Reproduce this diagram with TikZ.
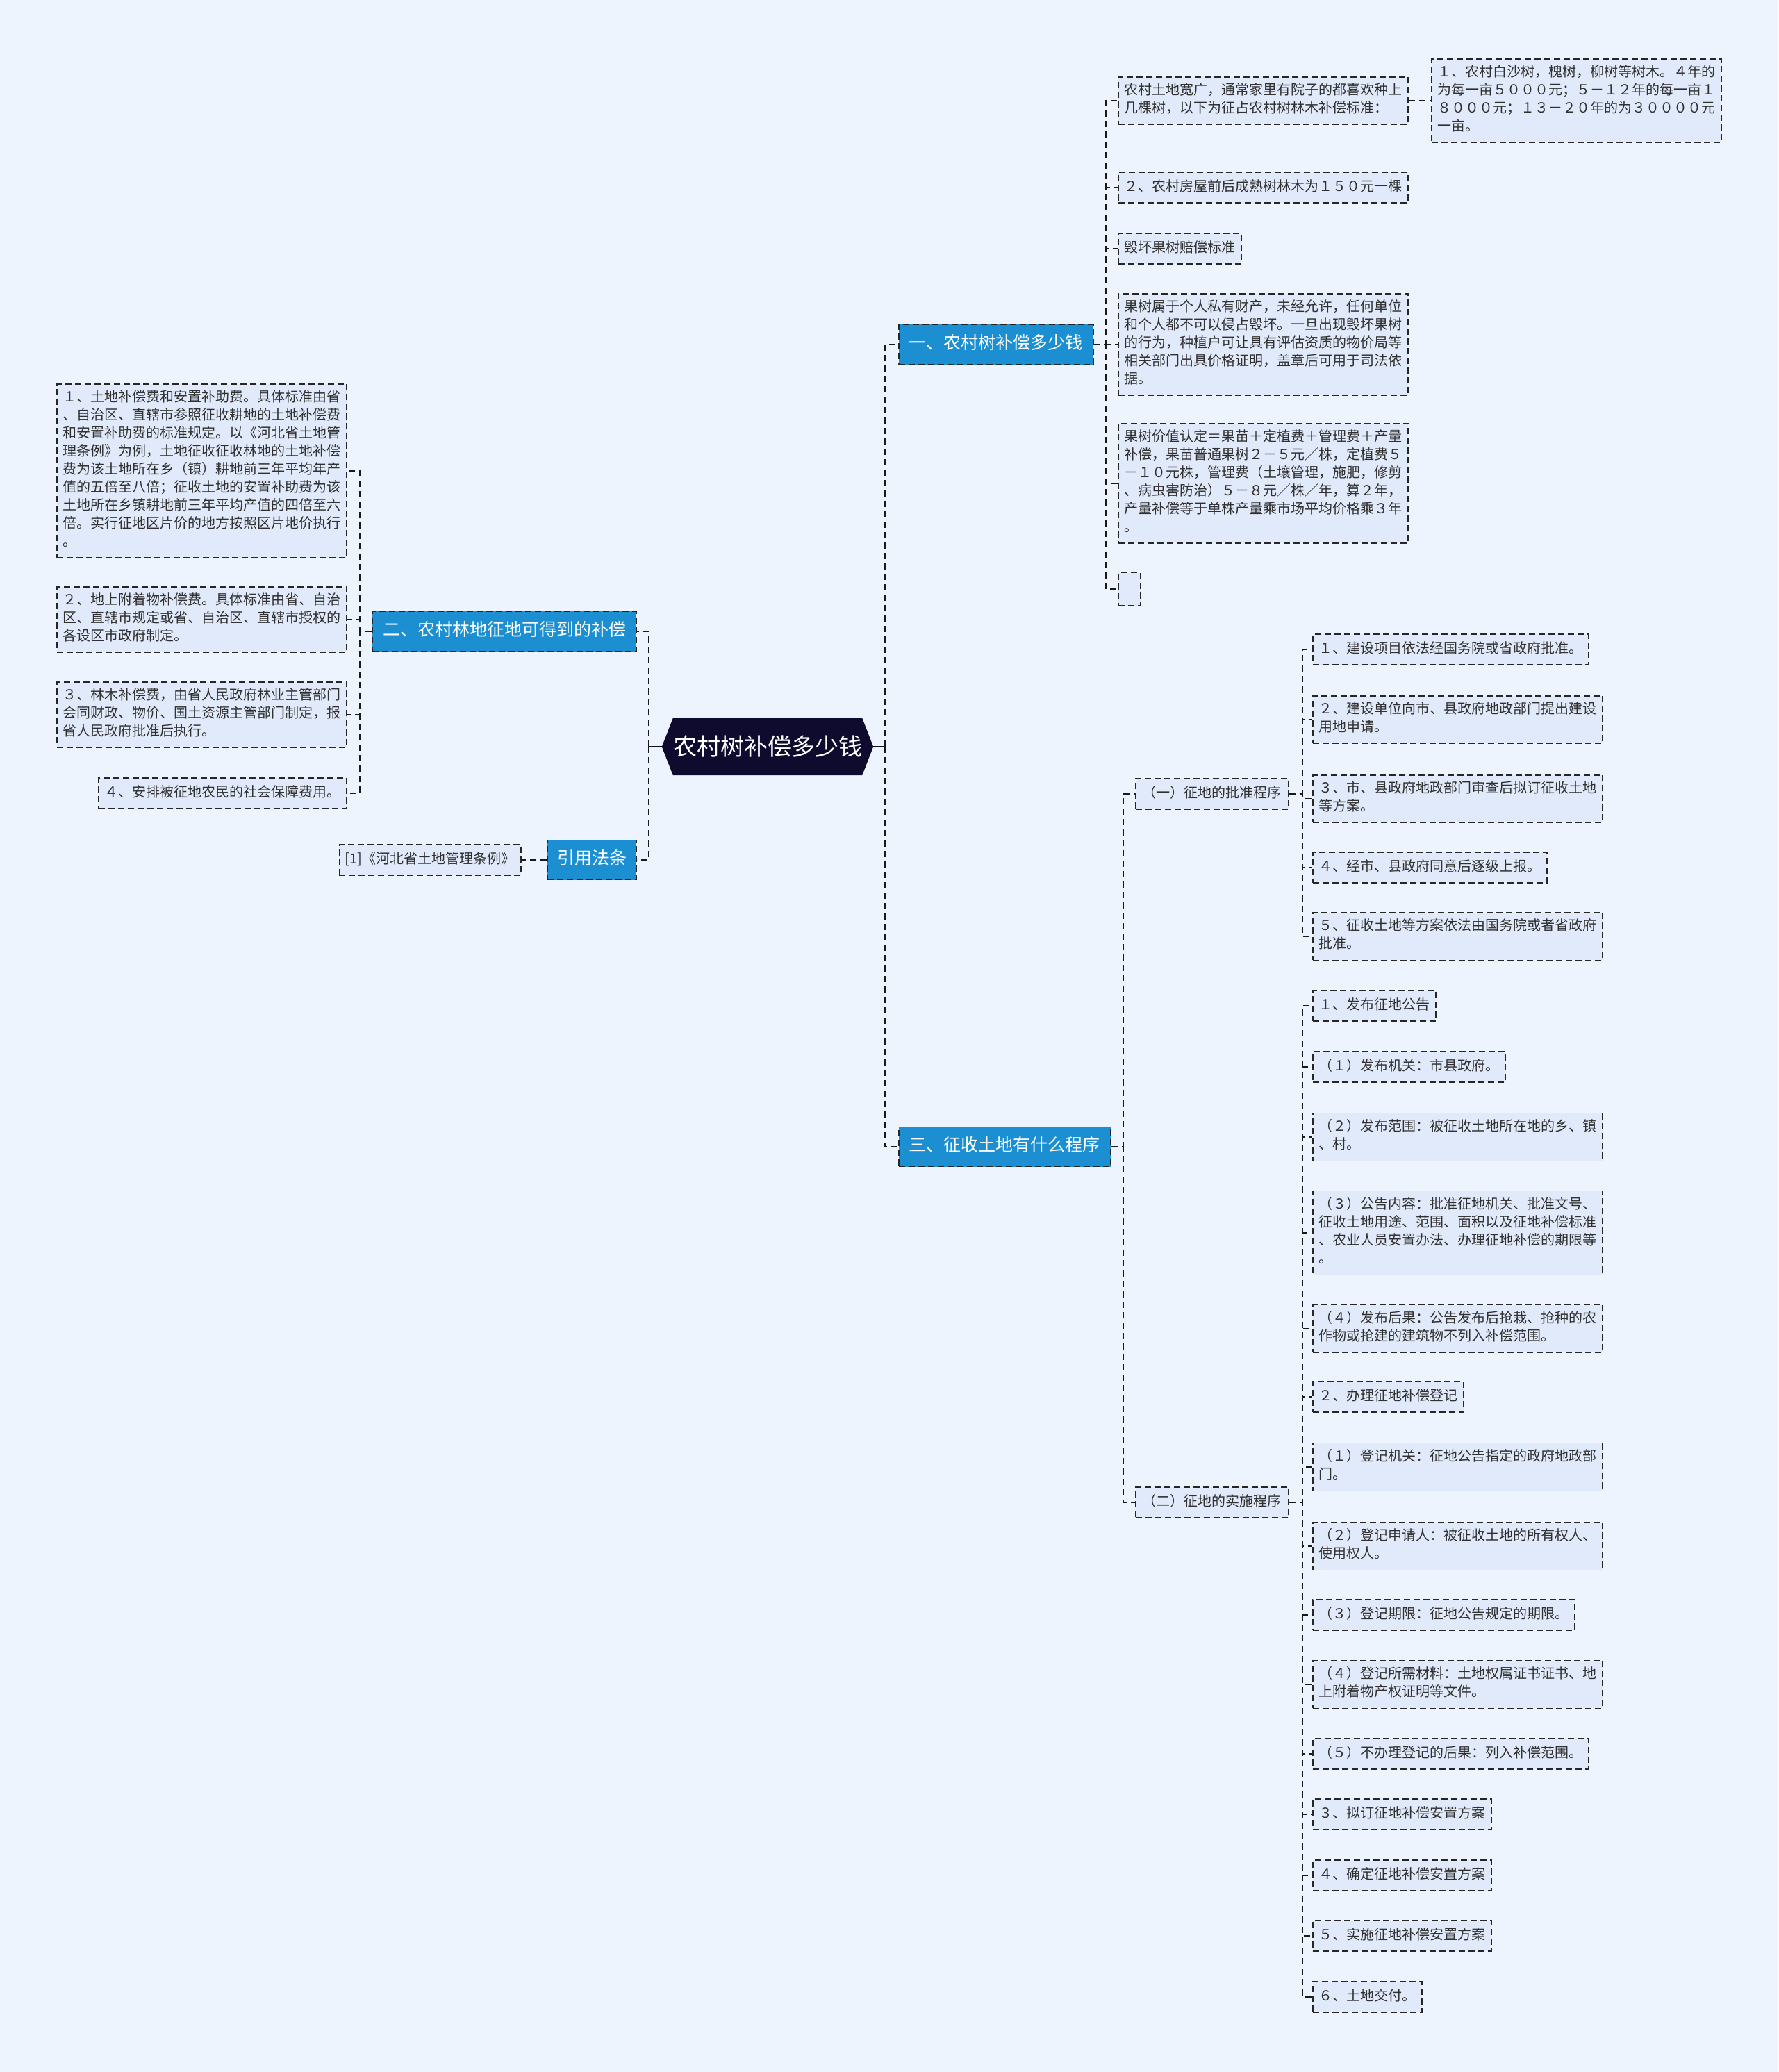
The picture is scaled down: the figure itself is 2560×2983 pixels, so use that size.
\documentclass[tikz,border=0pt]{standalone}
\usepackage{fontspec}
\setmainfont{Noto Sans CJK SC}
\usetikzlibrary{backgrounds}
\definecolor{bgc}{HTML}{EEF4FE}
\definecolor{leaffill}{HTML}{E1EAFA}
\definecolor{bluefill}{HTML}{1B8FD1}
\definecolor{rootfill}{HTML}{0E0B2E}
\definecolor{txt}{HTML}{303030}
\begin{document}
\begin{tikzpicture}[x=1pt,y=-1pt,
  conn/.style={draw=black!90, line width=2pt, dash pattern=on 9pt off 6pt},
  rootline/.style={draw=rootfill, line width=2.5pt},
  leaf/.style={draw=black!85, line width=1.8pt, dash pattern=on 9pt off 5pt, fill=leaffill, text=txt,
    font=\fontsize{20}{26}\selectfont, align=left, inner xsep=8.5pt, inner ysep=9pt,
    execute at begin node=\strut, execute at end node=\strut},
  branch/.style={draw=black!85, line width=1.8pt, dash pattern=on 9pt off 5pt, fill=bluefill, text=white,
    font=\fontsize{25}{30}\selectfont, inner xsep=15pt, inner ysep=13.5pt, execute at begin node=\strut},
]
\useasboundingbox (0,0) rectangle (2560,2983);
\begin{scope}[on background layer]
\fill[bgc] (0,0) rectangle (2560,2983);
\end{scope}

% root
\node[minimum width=304pt, minimum height=82pt, inner sep=0pt, text=white, font=\fontsize{34}{40}\selectfont] (root) at (1105,1075) {农村树补偿多少钱};
\begin{scope}[on background layer]
\fill[rootfill] (root.west) -- ([xshift=16pt]root.north west) -- ([xshift=-16pt]root.north east) -- (root.east) -- ([xshift=-16pt]root.south east) -- ([xshift=16pt]root.south west) -- cycle;
\end{scope}
\coordinate (rbus) at (1274,1075);
\coordinate (lbus) at (934,1075);

% main branches
\node[branch, anchor=west] (b1) at (1293,496) {一、农村树补偿多少钱};
\node[branch, anchor=west] (b3) at (1293,1651) {三、征收土地有什么程序};
\node[branch, anchor=east] (b2) at (917,909) {二、农村林地征地可得到的补偿};
\node[branch, anchor=east, inner xsep=14pt] (yy) at (917,1238) {引用法条};

% left leaves
\node[leaf, anchor=east] (ref) at (751,1238) {[1]《河北省土地管理条例》};
\node[leaf, anchor=east] (l1) at (500,678) {１、土地补偿费和安置补助费。具体标准由省\\、自治区、直辖市参照征收耕地的土地补偿费\\和安置补助费的标准规定。以《河北省土地管\\理条例》为例，土地征收征收林地的土地补偿\\费为该土地所在乡（镇）耕地前三年平均年产\\值的五倍至八倍；征收土地的安置补助费为该\\土地所在乡镇耕地前三年平均产值的四倍至六\\倍。实行征地区片价的地方按照区片地价执行\\。};
\node[leaf, anchor=east] (l2) at (500,892) {２、地上附着物补偿费。具体标准由省、自治\\区、直辖市规定或省、自治区、直辖市授权的\\各设区市政府制定。};
\node[leaf, anchor=east] (l3) at (500,1029) {３、林木补偿费，由省人民政府林业主管部门\\会同财政、物价、国土资源主管部门制定，报\\省人民政府批准后执行。};
\node[leaf, anchor=east] (l4) at (500,1142) {４、安排被征地农民的社会保障费用。};

% branch 1 leaves
\node[leaf, anchor=west] (c1) at (1609,145) {农村土地宽广，通常家里有院子的都喜欢种上\\几棵树，以下为征占农村树林木补偿标准：};
\node[leaf, anchor=west] (c1a) at (2060,145) {１、农村白沙树，槐树，柳树等树木。４年的\\为每一亩５０００元；５－１２年的每一亩１\\８０００元；１３－２０年的为３００００元\\一亩。};
\node[leaf, anchor=west] (c2) at (1609,270) {２、农村房屋前后成熟树林木为１５０元一棵};
\node[leaf, anchor=west] (c3) at (1609,358) {毁坏果树赔偿标准};
\node[leaf, anchor=west] (c4) at (1609,496) {果树属于个人私有财产，未经允许，任何单位\\和个人都不可以侵占毁坏。一旦出现毁坏果树\\的行为，种植户可让具有评估资质的物价局等\\相关部门出具价格证明，盖章后可用于司法依\\据。};
\node[leaf, anchor=west] (c5) at (1609,696) {果树价值认定＝果苗＋定植费＋管理费＋产量\\补偿，果苗普通果树２－５元／株，定植费５\\－１０元株，管理费（土壤管理，施肥，修剪\\、病虫害防治）５－８元／株／年，算２年，\\产量补偿等于单株产量乘市场平均价格乘３年\\。};
\node[leaf, anchor=west, minimum width=32pt, minimum height=47pt, inner xsep=0pt, execute at begin node={}, execute at end node={}] (c6) at (1609,848) {};

% branch 3 sub
\node[leaf, anchor=west, inner xsep=10pt] (p1) at (1634,1143) {（一）征地的批准程序};
\node[leaf, anchor=west, inner xsep=10pt] (p2) at (1634,2163) {（二）征地的实施程序};

\node[leaf, anchor=west] (a1) at (1889,935) {１、建设项目依法经国务院或省政府批准。};
\node[leaf, anchor=west] (a2) at (1889,1036) {２、建设单位向市、县政府地政部门提出建设\\用地申请。};
\node[leaf, anchor=west] (a3) at (1889,1150) {３、市、县政府地政部门审查后拟订征收土地\\等方案。};
\node[leaf, anchor=west] (a4) at (1889,1249) {４、经市、县政府同意后逐级上报。};
\node[leaf, anchor=west] (a5) at (1889,1348) {５、征收土地等方案依法由国务院或者省政府\\批准。};

\node[leaf, anchor=west] (d1) at (1889,1448) {１、发布征地公告};
\node[leaf, anchor=west] (d2) at (1889,1536) {（１）发布机关：市县政府。};
\node[leaf, anchor=west] (d3) at (1889,1637) {（２）发布范围：被征收土地所在地的乡、镇\\、村。};
\node[leaf, anchor=west] (d4) at (1889,1775) {（３）公告内容：批准征地机关、批准文号、\\征收土地用途、范围、面积以及征地补偿标准\\、农业人员安置办法、办理征地补偿的期限等\\。};
\node[leaf, anchor=west] (d5) at (1889,1913) {（４）发布后果：公告发布后抢栽、抢种的农\\作物或抢建的建筑物不列入补偿范围。};
\node[leaf, anchor=west] (d6) at (1889,2011) {２、办理征地补偿登记};
\node[leaf, anchor=west] (d7) at (1889,2112) {（１）登记机关：征地公告指定的政府地政部\\门。};
\node[leaf, anchor=west] (d8) at (1889,2226) {（２）登记申请人：被征收土地的所有权人、\\使用权人。};
\node[leaf, anchor=west] (d9) at (1889,2325) {（３）登记期限：征地公告规定的期限。};
\node[leaf, anchor=west] (d10) at (1889,2425) {（４）登记所需材料：土地权属证书证书、地\\上附着物产权证明等文件。};
\node[leaf, anchor=west] (d11) at (1889,2525) {（５）不办理登记的后果：列入补偿范围。};
\node[leaf, anchor=west] (d12) at (1889,2612) {３、拟订征地补偿安置方案};
\node[leaf, anchor=west] (d13) at (1889,2700) {４、确定征地补偿安置方案};
\node[leaf, anchor=west] (d14) at (1889,2787) {５、实施征地补偿安置方案};
\node[leaf, anchor=west] (d15) at (1889,2875) {６、土地交付。};

% connectors
\draw[rootline] (root.east) -- (rbus);
\draw[rootline] (root.west) -- (lbus);
\draw[conn] (rbus) |- (b1.west);
\draw[conn] (rbus) |- (b3.west);
\draw[conn] (lbus) |- (b2.east);
\draw[conn] (lbus) |- (yy.east);
\draw[conn] (yy.west) -- (ref.east);
\foreach \n in {l1,l2,l3,l4} \draw[conn] (b2.west) -- ++(-17,0) |- (\n.east);
\foreach \n in {c1,c2,c3,c4,c5,c6} \draw[conn] (b1.east) -- ++(17,0) |- (\n.west);
\draw[conn] (c1.east) -- (c1a.west);
\foreach \n in {p1,p2} \draw[conn] (b3.east) -- ++(17,0) |- (\n.west);
\foreach \n in {a1,a2,a3,a4,a5} \draw[conn] (p1.east) -- ++(19,0) |- (\n.west);
\foreach \n in {d1,d2,d3,d4,d5,d6,d7,d8,d9,d10,d11,d12,d13,d14,d15} \draw[conn] (p2.east) -- ++(19,0) |- (\n.west);
\end{tikzpicture}
\end{document}
